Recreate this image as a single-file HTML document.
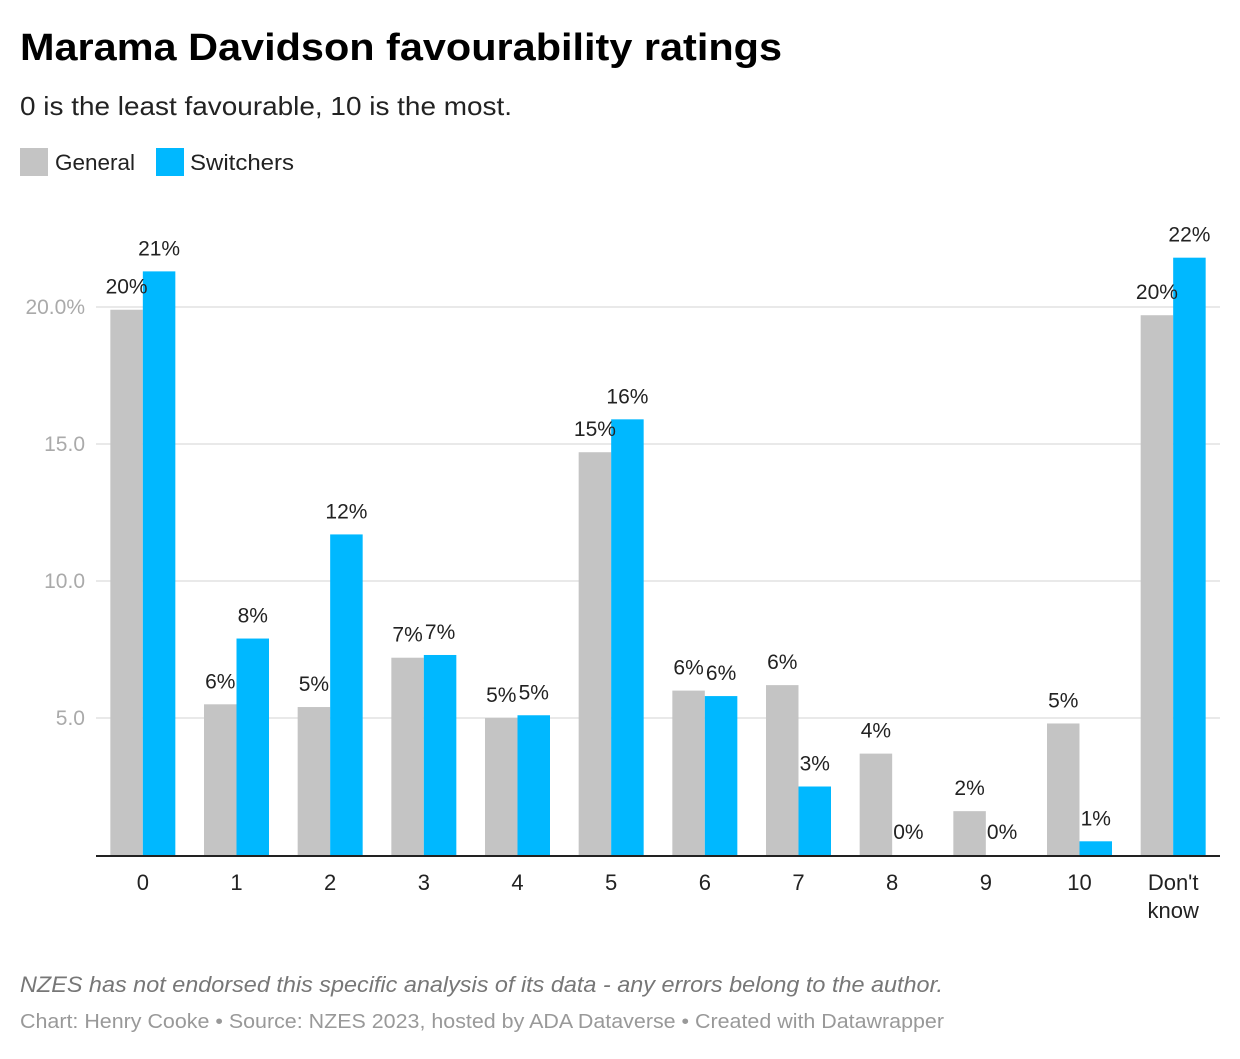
<!DOCTYPE html>
<html><head><meta charset="utf-8"><style>
body{margin:0;background:#fff;font-family:"Liberation Sans",Arial,sans-serif;}
svg text{font-family:"Liberation Sans",Arial,sans-serif;}
</style></head><body>
<svg id="c" width="1240" height="1054" viewBox="0 0 1240 1054">
<text x="20" y="60" font-size="38" font-weight="bold" fill="#000" textLength="762" lengthAdjust="spacingAndGlyphs">Marama Davidson favourability ratings</text>
<text x="20" y="115" font-size="26" fill="#222" textLength="492" lengthAdjust="spacingAndGlyphs">0 is the least favourable, 10 is the most.</text>
<rect x="20" y="148" width="28" height="28" fill="#c4c4c4"/>
<text x="55" y="170" font-size="22" fill="#222" textLength="80" lengthAdjust="spacingAndGlyphs">General</text>
<rect x="156" y="148" width="28" height="28" fill="#00b8ff"/>
<text x="190" y="170" font-size="22" fill="#222" textLength="104" lengthAdjust="spacingAndGlyphs">Switchers</text>
<g id="grid"></g><g id="bars"></g><g id="labels"></g>
<line x1="96" x2="1220" y1="856" y2="856" stroke="#222" stroke-width="2"/>
<text x="20" y="992" font-size="22" font-style="italic" fill="#777" textLength="923" lengthAdjust="spacingAndGlyphs">NZES has not endorsed this specific analysis of its data - any errors belong to the author.</text>
<text x="20" y="1028" font-size="20" fill="#999" textLength="924" lengthAdjust="spacingAndGlyphs">Chart: Henry Cooke • Source: NZES 2023, hosted by ADA Dataverse • Created with Datawrapper</text>
</svg>
<script>
const categories=["0","1","2","3","4","5","6","7","8","9","10","Don't|know"];
const general=[19.9,5.5,5.4,7.2,5.0,14.7,6.0,6.2,3.7,1.6,4.8,19.7];
const switchers=[21.3,7.9,11.7,7.3,5.1,15.9,5.8,2.5,0,0,0.5,21.8];
const yTicks=[5,10,15,20];
const NS="http://www.w3.org/2000/svg";
const x0=96,x1=1220,yBase=855,pxPerUnit=27.4;
const band=(x1-x0)/categories.length,bw=32.5;
const y=v=>yBase-v*pxPerUnit;
const xc=i=>x0+band*(i+0.5);
function mk(tag,attrs,parent){const e=document.createElementNS(NS,tag);for(const k in attrs)e.setAttribute(k,attrs[k]);parent.appendChild(e);return e;}
const grid=document.getElementById('grid'),bars=document.getElementById('bars'),labels=document.getElementById('labels');
yTicks.forEach(t=>{
 const l=mk('line',{x1:x0,x2:x1,y1:y(t),y2:y(t),stroke:'#e2e2e2','stroke-width':1.5},grid);
 
 
 const tx=mk('text',{x:85,y:y(t)+7,'text-anchor':'end','font-size':21,fill:'#aaa'},grid);
 tx.textContent=t.toFixed(1)+(t===20?'%':'');
 
 
});
categories.forEach((c,i)=>{
 [[general,'#c4c4c4',-1,'general'],[switchers,'#00b8ff',0,'switchers']].forEach(([arr,col,off,nm])=>{
  const v=arr[i],bx=xc(i)+off*bw;
  const r=mk('rect',{x:bx,y:y(v),width:bw,height:Math.max(0,yBase-y(v)),fill:col},bars);
  
  
  const t=mk('text',{x:bx+bw/2,y:y(v)-16,'text-anchor':'middle','font-size':21,fill:'#222'},labels);
  t.textContent=Math.round(v)+'%';
  
  
 });
 c.split('|').forEach((p,j)=>{
  const t=mk('text',{x:xc(i),y:890+j*28,'text-anchor':'middle','font-size':22,fill:'#222'},labels);
  t.textContent=p;
  
  
 });
});
</script>
</body></html>
